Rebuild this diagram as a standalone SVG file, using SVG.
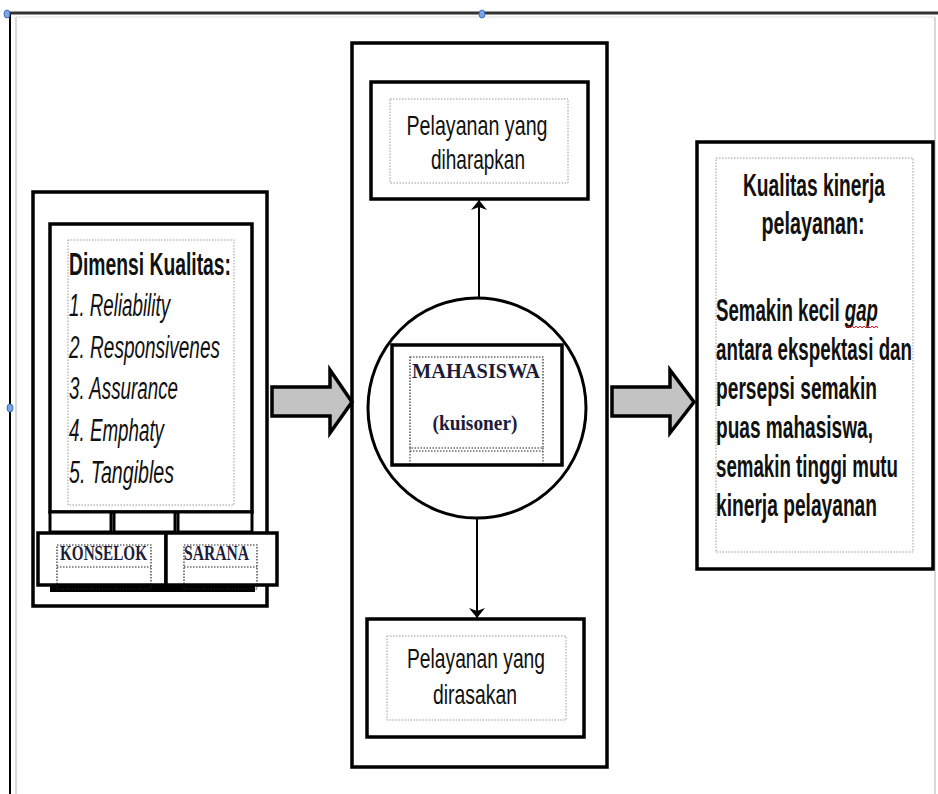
<svg xmlns="http://www.w3.org/2000/svg" width="938" height="794" viewBox="0 0 938 794">
<defs>
<style>
.box{fill:#fff;stroke:#000;stroke-width:3.5}
.dot{fill:none;stroke:#999;stroke-width:1;stroke-dasharray:1.5 1.5}
.dotk{fill:none;stroke:#222;stroke-width:1.2;stroke-dasharray:1.5 1.5}
.sans{font-family:"Liberation Sans",Arial,sans-serif;fill:#111}
.serif{font-family:"Liberation Serif","Times New Roman",serif;font-weight:bold;fill:#1c1c3a}
.big{fill:#c3c3c3;stroke:#000;stroke-width:3.5;stroke-linejoin:miter}
.line{stroke:#000;stroke-width:2;fill:none}
.handle{fill:#7aa6e6;stroke:#3b6fb8;stroke-width:1}
</style>
<marker id="ah" viewBox="0 0 10 20" refX="10" refY="10" markerWidth="10" markerHeight="20" markerUnits="userSpaceOnUse" orient="auto">
<path d="M0,2 L10,10 L0,18 L3,10 Z" fill="#000"/>
</marker>
</defs>
<rect width="938" height="794" fill="#fff"/>
<g id="frame">
<line x1="16" y1="17" x2="16" y2="794" stroke="#ccc" stroke-width="1.5"/>
<line x1="935" y1="17" x2="935" y2="794" stroke="#ccc" stroke-width="1.5"/>
<line x1="16" y1="17" x2="935" y2="17" stroke="#ddd" stroke-width="1"/>
<line x1="7" y1="13" x2="938" y2="13" stroke="#333" stroke-width="3"/>
<line x1="10" y1="13" x2="10" y2="794" stroke="#000" stroke-width="2"/>
<ellipse class="handle" cx="7" cy="14" rx="3" ry="4"/>
<ellipse class="handle" cx="482" cy="14" rx="3" ry="4"/>
<ellipse class="handle" cx="10" cy="408" rx="3" ry="4"/>
</g>
<g id="dimensi">
<rect class="box" x="33" y="192" width="234" height="414"/>
<rect class="box" x="50" y="224" width="202" height="288"/>
<rect class="dot" x="68" y="240" width="166" height="265"/>
<text class="sans" x="69" y="275" font-size="32" font-weight="bold" textLength="162" lengthAdjust="spacingAndGlyphs">Dimensi Kualitas:</text>
<g font-style="italic">
<text class="sans" x="69" y="316" font-size="31" textLength="101" lengthAdjust="spacingAndGlyphs">1. Reliability</text>
<text class="sans" x="69" y="358" font-size="31" textLength="151" lengthAdjust="spacingAndGlyphs">2. Responsivenes</text>
<text class="sans" x="69" y="399" font-size="31" textLength="109" lengthAdjust="spacingAndGlyphs">3. Assurance</text>
<text class="sans" x="69" y="441" font-size="31" textLength="95" lengthAdjust="spacingAndGlyphs">4. Emphaty</text>
<text class="sans" x="69" y="483" font-size="31" textLength="105" lengthAdjust="spacingAndGlyphs">5. Tangibles</text>
</g>
<rect x="50" y="512" width="61" height="20" fill="#fff" stroke="#000" stroke-width="3"/>
<rect x="114" y="512" width="61" height="20" fill="#fff" stroke="#000" stroke-width="3"/>
<rect x="178" y="512" width="74" height="20" fill="#fff" stroke="#000" stroke-width="3"/>
<rect x="50" y="586" width="205" height="6" fill="#000"/>
</g>
<g id="konselok">
<rect class="box" x="38" y="533" width="128" height="52" stroke-width="4"/>
<rect class="dotk" x="57" y="545" width="94" height="44"/>
<line x1="57" y1="567" x2="151" y2="567" stroke="#222" stroke-width="1" stroke-dasharray="1.5 1.5"/>
<text class="serif" x="60" y="560" font-size="20" textLength="87" lengthAdjust="spacingAndGlyphs">KONSELOK</text>
</g>
<g id="sarana">
<rect class="box" x="166" y="533" width="111" height="52" stroke-width="4"/>
<rect class="dotk" x="184" y="545" width="73" height="44"/>
<line x1="184" y1="567" x2="257" y2="567" stroke="#222" stroke-width="1" stroke-dasharray="1.5 1.5"/>
<text class="serif" x="184" y="560" font-size="20" textLength="65" lengthAdjust="spacingAndGlyphs">SARANA</text>
</g>
<g id="tengah">
<rect class="box" x="352" y="43" width="255" height="724"/>
</g>
<g id="diharapkan">
<rect class="box" x="371" y="82" width="217" height="117" stroke-width="4"/>
<rect class="dot" x="390" y="99" width="178" height="84"/>
<text class="sans" x="477" y="135" font-size="28" text-anchor="middle" textLength="141" lengthAdjust="spacingAndGlyphs">Pelayanan yang</text>
<text class="sans" x="478" y="169" font-size="28" text-anchor="middle" textLength="94" lengthAdjust="spacingAndGlyphs">diharapkan</text>
</g>
<g id="dirasakan">
<rect class="box" x="367" y="619" width="217" height="118" stroke-width="4"/>
<rect class="dot" x="387" y="636" width="179" height="84"/>
<text class="sans" x="476" y="668" font-size="28" text-anchor="middle" textLength="138" lengthAdjust="spacingAndGlyphs">Pelayanan yang</text>
<text class="sans" x="475" y="704" font-size="28" text-anchor="middle" textLength="84" lengthAdjust="spacingAndGlyphs">dirasakan</text>
</g>
<g id="mahasiswa">
<ellipse cx="477" cy="408" rx="109" ry="110" fill="#fff" stroke="#000" stroke-width="3"/>
<rect class="box" x="392" y="345" width="170" height="120" stroke-width="4.5"/>
<rect class="dotk" x="410" y="357" width="133" height="91"/>
<line x1="410" y1="451" x2="543" y2="451" stroke="#222" stroke-width="1" stroke-dasharray="1.5 1.5"/>
<line x1="410" y1="448" x2="410" y2="465" stroke="#222" stroke-width="1" stroke-dasharray="1.5 1.5"/>
<line x1="543" y1="448" x2="543" y2="465" stroke="#222" stroke-width="1" stroke-dasharray="1.5 1.5"/>
<text class="serif" x="476" y="378" font-size="21" text-anchor="middle" textLength="128" lengthAdjust="spacingAndGlyphs">MAHASISWA</text>
<text class="serif" x="475" y="430" font-size="21" text-anchor="middle" textLength="85" lengthAdjust="spacingAndGlyphs">(kuisoner)</text>
</g>
<g id="kinerja">
<rect class="box" x="697" y="142" width="236" height="427" stroke-width="4.5"/>
<rect class="dot" x="716" y="158" width="197" height="394"/>
<g font-weight="bold">
<text class="sans" x="814" y="196" font-size="32" text-anchor="middle" textLength="142" lengthAdjust="spacingAndGlyphs">Kualitas kinerja</text>
<text class="sans" x="813" y="234" font-size="32" text-anchor="middle" textLength="103" lengthAdjust="spacingAndGlyphs">pelayanan:</text>
<text class="sans" x="716" y="321" font-size="32" textLength="162" lengthAdjust="spacingAndGlyphs">Semakin kecil <tspan font-style="italic">gap</tspan></text>
<text class="sans" x="716" y="360" font-size="32" textLength="196" lengthAdjust="spacingAndGlyphs">antara ekspektasi dan</text>
<text class="sans" x="716" y="399" font-size="32" textLength="161" lengthAdjust="spacingAndGlyphs">persepsi semakin</text>
<text class="sans" x="716" y="438" font-size="32" textLength="157" lengthAdjust="spacingAndGlyphs">puas mahasiswa,</text>
<text class="sans" x="716" y="477" font-size="32" textLength="182" lengthAdjust="spacingAndGlyphs">semakin tinggi mutu</text>
<text class="sans" x="716" y="516" font-size="32" textLength="161" lengthAdjust="spacingAndGlyphs">kinerja pelayanan</text>
</g>
<path d="M846,328 l2,-2 l2,2 l2,-2 l2,2 l2,-2 l2,2 l2,-2 l2,2 l2,-2 l2,2 l2,-2 l2,2 l2,-2 l2,2 l2,-2 l2,2" fill="none" stroke="#e02020" stroke-width="1"/>
</g>
<g id="connectors">
<line class="line" x1="479" y1="298" x2="479" y2="200" marker-end="url(#ah)"/>
<line class="line" x1="477" y1="518" x2="477" y2="618" marker-end="url(#ah)"/>
<path class="big" d="M272,387 L330,387 L330,370 L352,402 L330,433 L330,416 L272,416 Z"/>
<path class="big" d="M612,387 L670,387 L670,370 L694,402 L670,433 L670,416 L612,416 Z"/>
</g>
</svg>
